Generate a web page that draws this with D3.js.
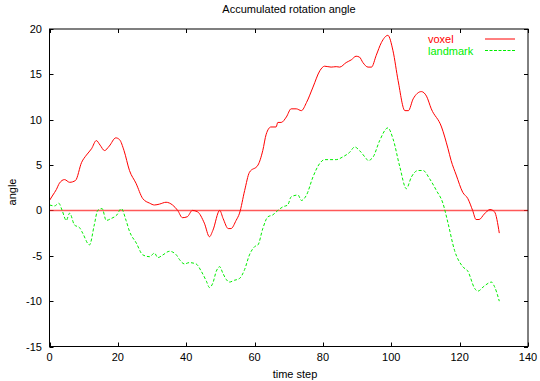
<!DOCTYPE html>
<html>
<head>
<meta charset="utf-8">
<script src="https://cdn.jsdelivr.net/npm/d3@7"></script>
<style>
  body { margin: 0; background: #fff; }
  svg { display: block; font-family: "Liberation Sans", Arial, sans-serif; }
</style>
</head>
<body>
<svg id="chart" width="540" height="381"></svg>
<script>
// voxel series (time step, angle)
const voxelT = [0, 1, 2, 2.9, 4.4, 5.9, 7.6, 9.4, 10.8, 12.3, 13.7, 14.8, 16.1, 17.5, 19.4, 20.5, 21.8,
  23.4, 25.3, 27.3, 29.3, 30.7, 32.2, 34.1, 36, 37.5, 38.9, 40.3, 41.8, 43.3, 45.3, 46.8, 47.8, 49.8,
  50.8, 52.3, 53.1, 54.6, 55.6, 57.1, 58.5, 61, 62.4, 63.4, 64.8, 66.3, 66.8, 67.8, 69.3, 70.7, 72.2,
  73.7, 75.2, 77.1, 79.1, 80.5, 82.4, 83.9, 84.9, 86.8, 88.3, 89.7, 90.7, 91.7, 93.2, 94.2, 95.6, 97.1,
  99, 100.5, 102, 104, 105, 106.4, 108.8, 110.3, 111.7, 114.7, 116.6, 117.5, 119, 120.9, 122.4, 123.8,
  124.8, 125.7, 127.2, 128.9, 130.2, 131.6];
const voxelV = [1.1, 1.7, 2.3, 3.0, 3.4, 3.1, 3.3, 5.3, 6.1, 6.8, 7.7, 7.2, 6.6, 7.1, 8.0, 7.8, 6.6,
  4.4, 3.0, 1.3, 0.8, 0.6, 0.7, 0.9, 0.6, 0.0, -0.8, -0.7, 0.0, -0.15, -1.4, -2.9, -2.2, 0.0,
  -0.9, -2.0, -2.0, -1.1, -0.3, 2.2, 4.2, 5.0, 6.6, 8.4, 9.2, 9.2, 9.7, 9.7, 10.3, 11.2, 11.2,
  11.0, 11.9, 13.6, 15.4, 15.9, 15.8, 15.85, 15.8, 16.3, 16.6, 17.0, 16.9, 16.3, 15.8, 15.8, 17.1, 18.5,
  19.3, 17.6, 14.3, 11.0, 11.0, 12.3, 13.1, 12.6, 11.2, 9.2, 6.8, 5.5, 3.9, 2.0, 1.3, 0.0,
  -1.0, -1.0, -0.4, 0.1, -0.15, -2.5];

// landmark series (time step, angle)
const landmarkT = [0, 1.5, 2.7, 3.7, 4.9, 5.9, 7.3, 8.8, 9.7, 11.7, 13.1, 14.1, 15.4, 16.6, 18.0, 19.7,
  21, 22.4, 23.4, 25.4, 27.3, 29.3, 30.7, 31.7, 33.2, 35.1, 37.1, 38.0, 39.5, 40.9, 42.9, 44.4, 45.9,
  46.8, 47.8, 48.8, 49.8, 50.7, 51.7, 52.6, 54.1, 55.6, 57.1, 58.5, 60, 61, 62.4, 63.9, 65.3, 66.8,
  68.3, 69.7, 70.7, 72.7, 73.7, 75.2, 77.1, 79.1, 80.5, 83.9, 85.8, 87.8, 89.3, 90.7, 92.7, 93.2,
  94.7, 96.6, 99, 100.5, 102.5, 104.4, 105.9, 107.8, 109.3, 111.2, 113.2, 115.1, 116.6, 118.5, 120.9,
  122.4, 124.4, 125.3, 127.3, 129.3, 130.2, 131.6];
const landmarkV = [0.6, 0.5, 0.8, 0.0, -1.1, -0.3, -1.6, -1.9, -2.5, -3.8, -1.6, 0.0, 0.2, -1.1, -0.9, -0.5,
  0.2, -1.1, -2.3, -3.6, -4.9, -5.1, -4.7, -5.2, -4.9, -4.5, -4.9, -5.4, -5.9, -5.75, -5.9, -6.7, -7.8,
  -8.5, -8.0, -6.7, -6.2, -6.9, -7.6, -7.9, -7.7, -7.5, -6.5, -4.9, -4.0, -3.8, -2.0, -0.7, -0.5, 0.0,
  0.4, 0.6, 1.5, 1.7, 1.1, 1.7, 3.7, 5.2, 5.6, 5.6, 5.9, 6.4, 7.0, 6.6, 5.7, 5.5,
  5.9, 7.7, 9.1, 7.9, 4.8, 2.4, 3.7, 4.4, 4.4, 3.5, 2.2, 0.8, -1.4, -4.4, -6.2,
  -6.7, -8.6, -8.9, -8.3, -7.9, -8.4, -10.0];

const xTicks = [0, 20, 40, 60, 80, 100, 120, 140];
const yTicks = [-15, -10, -5, 0, 5, 10, 15, 20];

const svg = d3.select('#chart');
const plot = { left: 49.5, right: 528, top: 29, bottom: 346.5 };

const x = d3.scaleLinear().domain([0, 140]).range([plot.left, plot.right]);
const y = d3.scaleLinear().domain([-15, 20]).range([plot.bottom, plot.top]);

// Title
svg.append('text')
  .attr('x', 289).attr('y', 13)
  .attr('text-anchor', 'middle')
  .style('font-size', '11px')
  .text('Accumulated rotation angle');

// Axis labels
svg.append('text')
  .attr('x', 295).attr('y', 378)
  .attr('text-anchor', 'middle')
  .style('font-size', '11px')
  .text('time step');

svg.append('text')
  .attr('transform', 'translate(16,192) rotate(-90)')
  .attr('text-anchor', 'middle')
  .style('font-size', '11px')
  .text('angle');

// Ticks (inward, mirrored)
const tickLen = 4;
const ticks = svg.append('g').attr('stroke', '#000').attr('stroke-width', 1);
xTicks.forEach(t => {
  const px = Math.round(x(t)) + 0.5;
  ticks.append('line').attr('x1', px).attr('x2', px).attr('y1', plot.bottom).attr('y2', plot.bottom - tickLen);
  ticks.append('line').attr('x1', px).attr('x2', px).attr('y1', plot.top).attr('y2', plot.top + tickLen);
});
yTicks.forEach(t => {
  const py = Math.round(y(t)) + 0.5;
  ticks.append('line').attr('x1', plot.left).attr('x2', plot.left + tickLen).attr('y1', py).attr('y2', py);
  ticks.append('line').attr('x1', plot.right).attr('x2', plot.right - tickLen).attr('y1', py).attr('y2', py);
});

svg.append('g').selectAll('text')
  .data(xTicks).enter().append('text')
  .attr('x', d => x(d)).attr('y', 361)
  .attr('text-anchor', 'middle')
  .style('font-size', '11px')
  .text(d => d);

svg.append('g').selectAll('text')
  .data(yTicks).enter().append('text')
  .attr('x', 42).attr('y', d => y(d) + 4)
  .attr('text-anchor', 'end')
  .style('font-size', '11px')
  .text(d => d);

// Zero line
svg.append('line')
  .attr('x1', plot.left).attr('x2', plot.right)
  .attr('y1', y(0)).attr('y2', y(0))
  .attr('stroke', '#ff2020')
  .attr('stroke-opacity', 0.75)
  .attr('stroke-width', 1.6);

const line = d3.line()
  .x(d => x(d[0]))
  .y(d => y(d[1]))
  .curve(d3.curveMonotoneX);

svg.append('path')
  .datum(voxelT.map((t, i) => [t, voxelV[i]]))
  .attr('d', line)
  .attr('fill', 'none')
  .attr('stroke', '#ff0000')
  .attr('stroke-width', 1);

svg.append('path')
  .datum(landmarkT.map((t, i) => [t, landmarkV[i]]))
  .attr('d', line)
  .attr('fill', 'none')
  .attr('stroke', '#00ee00')
  .attr('stroke-width', 1)
  .attr('stroke-dasharray', '3,2');

// Frame
svg.append('rect')
  .attr('x', plot.left).attr('y', plot.top)
  .attr('width', plot.right - plot.left).attr('height', plot.bottom - plot.top)
  .attr('fill', 'none')
  .attr('stroke', '#000')
  .attr('stroke-width', 1);

// Legend
const legend = [
  { name: 'voxel', color: '#ff0000', dash: null, y: 39 },
  { name: 'landmark', color: '#00ee00', dash: '3,1.5', y: 50.5 }
];
legend.forEach(l => {
  svg.append('text')
    .attr('x', 428).attr('y', l.y + 4)
    .attr('fill', l.color)
    .style('font-size', '11px')
    .text(l.name);
  svg.append('line')
    .attr('x1', 485).attr('x2', 515)
    .attr('y1', l.y).attr('y2', l.y)
    .attr('stroke', l.color)
    .attr('stroke-width', 1)
    .attr('stroke-dasharray', l.dash);
});
</script>
</body>
</html>
